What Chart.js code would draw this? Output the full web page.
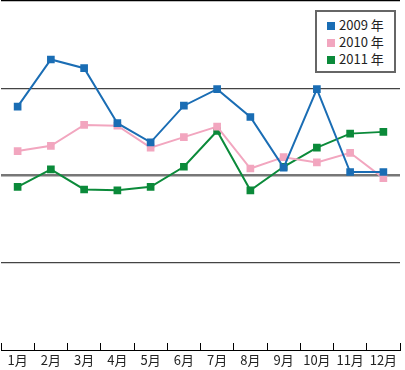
<!DOCTYPE html>
<html>
<head>
<meta charset="utf-8">
<script src="https://cdn.jsdelivr.net/npm/chart.js@4/dist/chart.umd.min.js"></script>
<style>
  body { margin: 0; background: #fff; }
  #wrap { position: relative; width: 405px; height: 370px; }
  #legend {
    position: absolute; left: 315px; top: 10px; width: 77px; height: 59px;
    border: 2px solid #666; background: #fff; padding: 0;
    font-family: "Noto Sans CJK JP", "Noto Sans", sans-serif; font-size: 13px; color: #222;
  }
  #legend div { height: 17px; line-height: 17px; margin-left: 10px; }
  #legend div:first-child { margin-top: 4px; }
  #legend span { display: inline-block; width: 8px; height: 8px; margin-right: 4px; vertical-align: 0px; }
</style>
</head>
<body>
<div id="wrap">
  <canvas id="lineChart" width="405" height="370"></canvas>
  <div id="legend"></div>
</div>
<script>
var months = ["1月", "2月", "3月", "4月", "5月", "6月", "7月", "8月", "9月", "10月", "11月", "12月"];
var y2009 = [279, 333, 323, 260, 238, 280, 299, 267, 209, 299, 204, 204];
var y2010 = [228, 234, 258, 257, 232, 244, 256, 208, 221, 215, 226, 197];
var y2011 = [187, 207, 184, 183, 187, 210, 251, 183, 210, 232, 248, 250];

function series(label, data, color) {
  return {
    label: label,
    data: data,
    borderColor: color,
    backgroundColor: color,
    borderWidth: 2,
    pointStyle: "rect",
    pointRadius: 4,
    pointHoverRadius: 4,
    tension: 0,
  };
}

var ctx = document.getElementById("lineChart").getContext("2d");
var lineChart = new Chart(ctx, {
  type: "line",
  data: {
    labels: months,
    datasets: [
      series("2009 年", y2009, "#1a6db4"),
      series("2010 年", y2010, "#f2a6bf"),
      series("2011 年", y2011, "#0b8a3a"),
    ],
  },
  options: {
    responsive: false,
    animation: false,
    layout: { autoPadding: false, padding: { top: 1, left: 1, right: 5, bottom: 0 } },
    plugins: { legend: { display: false }, tooltip: { enabled: false } },
    scales: {
      x: {
        offset: true,
        // tick marks point up into the plot
        grid: { offset: true, drawOnChartArea: false, drawTicks: true, tickLength: -7, color: "#000", lineWidth: 1 },
        border: { display: true, color: "#000", width: 1 },
        ticks: { color: "#222", padding: 9, font: { family: "Noto Sans CJK JP", size: 13 }, maxRotation: 0, autoSkip: false },
        afterFit: function (scale) { scale.height = 20; scale.paddingLeft = 0; scale.paddingRight = 0; },
      },
      y: {
        min: 0,
        max: 400,
        ticks: { display: false, stepSize: 100 },
        border: { display: false },
        grid: {
          drawTicks: false,
          color: function (c) { return c.tick.value === 200 ? "#777" : c.tick.value === 400 ? "#000" : "#444"; },
          lineWidth: function (c) { return c.tick.value === 200 ? 2.5 : c.tick.value === 0 ? 0 : 1.2; },
        },
        afterFit: function (scale) { scale.width = 0; },
      },
    },
  },
});

// Legend box
var legend = document.getElementById("legend");
lineChart.data.datasets.forEach(function (ds) {
  var row = document.createElement("div");
  row.innerHTML = '<span style="background:' + ds.borderColor + '"></span>' + ds.label;
  legend.appendChild(row);
});
</script>
</body>
</html>
